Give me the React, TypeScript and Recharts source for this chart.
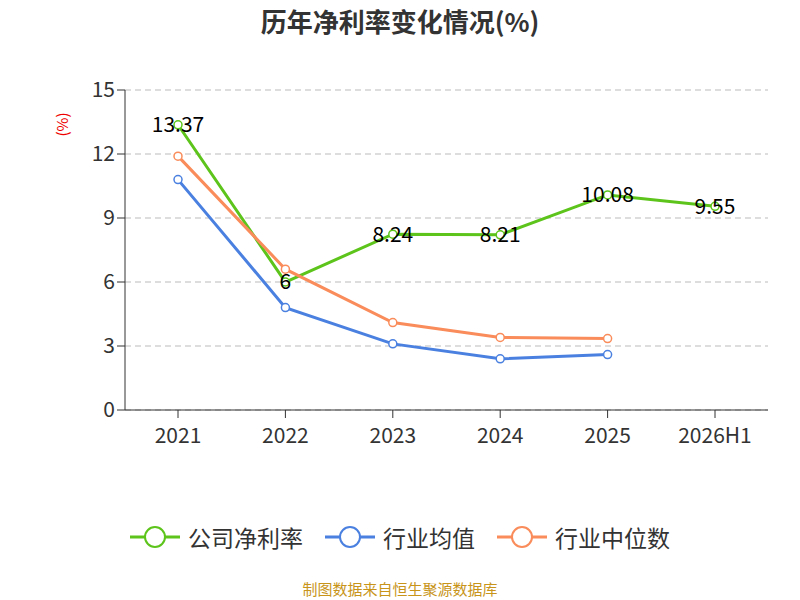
import { LineChart, Line, XAxis, YAxis, CartesianGrid, LabelList } from 'recharts';

const years = ['2021', '2022', '2023', '2024', '2025', '2026H1'];
const company = [13.37, 6, 8.24, 8.21, 10.08, 9.55];
const industryAvg = [10.8, 4.8, 3.1, 2.4, 2.6, null];
const industryMedian = [11.9, 6.6, 4.1, 3.4, 3.35, null];

const data = years.map((y, i) => ({
  year: y,
  company: company[i],
  avg: industryAvg[i],
  median: industryMedian[i],
}));

const series = [
  { key: 'company', name: '公司净利率', color: '#5cc41b' },
  { key: 'avg', name: '行业均值', color: '#4a80e0' },
  { key: 'median', name: '行业中位数', color: '#f98c5a' },
];

const font = '"Noto Sans CJK SC", "Noto Sans", sans-serif';

export default function App() {
  return (
    <div style={{ position: 'absolute', left: 0, top: 0, width: 800, height: 600, background: '#fff', fontFamily: font }}>
      <div style={{ position: 'absolute', top: 2, width: 800, textAlign: 'center', fontSize: 26, fontWeight: 'bold', color: '#333' }}>
        历年净利率变化情况(%)
      </div>
      <div style={{ position: 'absolute', left: 50, top: 114, transform: 'rotate(-90deg)', color: '#e00', fontSize: 15 }}>(%)</div>
      <LineChart width={800} height={600} data={data} margin={{ top: 90, right: 32, left: 70, bottom: 160 }}>
        <CartesianGrid vertical={false} strokeDasharray="6 4" stroke="#bbb" />
        <XAxis dataKey="year" stroke="#333" tick={{ fontSize: 21, fill: '#333', dy: 8 }} tickSize={8} padding={{ left: 53, right: 53 }} />
        <YAxis domain={[0, 15]} ticks={[0, 3, 6, 9, 12, 15]} width={55} stroke="#333" tick={{ fontSize: 21, fill: '#333' }} tickSize={8} />
        {series.map(s => (
          <Line key={s.key} name={s.name} dataKey={s.key} stroke={s.color} strokeWidth={3} dot={{ r: 4, fill: '#fff', strokeWidth: 1.5 }} isAnimationActive={false}>
            {s.key === 'company' && <LabelList dataKey="company" position="center" style={{ fontSize: 21, fill: '#000' }} />}
          </Line>
        ))}
      </LineChart>
      <div style={{ position: 'absolute', top: 520, width: 800, display: 'flex', justifyContent: 'center', gap: 22, fontSize: 23, color: '#333' }}>
        {series.map(s => (
          <div key={s.key} style={{ display: 'flex', alignItems: 'center' }}>
            <svg width={50} height={30} style={{ marginRight: 8 }}>
              <line x1={0} y1={15} x2={50} y2={15} stroke={s.color} strokeWidth={3} />
              <circle cx={25} cy={15} r={10} fill="#fff" stroke={s.color} strokeWidth={2} />
            </svg>
            {s.name}
          </div>
        ))}
      </div>
      <div style={{ position: 'absolute', top: 578, width: 800, textAlign: 'center', fontSize: 15, color: '#c8951a' }}>制图数据来自恒生聚源数据库</div>
    </div>
  );
}
